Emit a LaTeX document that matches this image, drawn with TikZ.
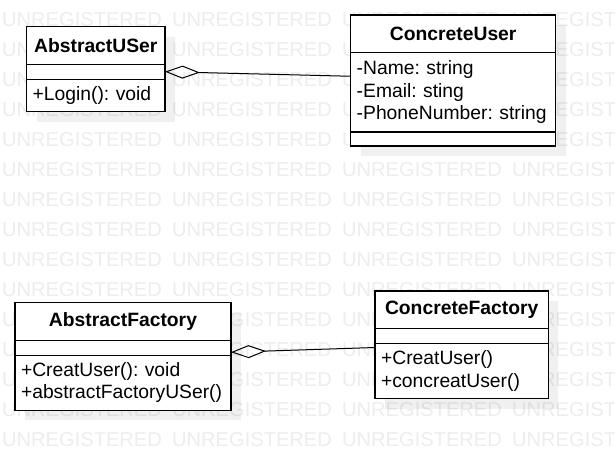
\documentclass[tikz,border=0pt]{standalone}
\usepackage{fontspec}
\setmainfont{Liberation Sans}
\usetikzlibrary{positioning,arrows.meta,shadows}

\tikzset{
umlpart/.style={
draw,
line width=1.2pt,
fill=white,
outer sep=0pt,
inner xsep=6pt,
inner ysep=0pt,
font=\fontsize{19.3}{22.3}\selectfont\frenchspacing,
drop shadow={shadow xshift=10pt,shadow yshift=-10pt,fill=black,opacity=0.06}
},
umlname/.style={umlpart,align=center,minimum height=37.5pt,
font=\fontsize{19.3}{22.3}\selectfont\bfseries},
umlbody/.style={umlpart,align=left},
aggregation/.style={line width=1pt,{Diamond[open,length=35pt,width=13pt]}-},
watermark/.style={text=black!7,inner sep=0pt,anchor=west,
font=\fontsize{20.1}{24}\selectfont}
}

\begin{document}
\begin{tikzpicture}[x=1pt,y=-1pt]

\path[use as bounding box,fill=white] (0,0) rectangle (615,471);

%%%%%%%%%%%%%%%%%%%%%%%%%%%%%%%%%%%%%%%%%%%%%%%%%%%%%%%%%%
% WATERMARK
%%%%%%%%%%%%%%%%%%%%%%%%%%%%%%%%%%%%%%%%%%%%%%%%%%%%%%%%%%

\begin{scope}
\clip (0,0) rectangle (615,471);
\foreach \r in {0,...,14}{
\foreach \c in {0,...,3}{
\node[watermark](wm-\r-\c) at (2+170*\c,20+30*\r){UNREGISTERED};
}
}
\end{scope}

%%%%%%%%%%%%%%%%%%%%%%%%%%%%%%%%%%%%%%%%%%%%%%%%%%%%%%%%%%
% USER CLASSES
%%%%%%%%%%%%%%%%%%%%%%%%%%%%%%%%%%%%%%%%%%%%%%%%%%%%%%%%%%

\node[
umlname,
anchor=north,
text width=126.3pt
](au-name)
at (95.8,26.7)
{AbstractUSer};

\node[umlbody,below=0pt of au-name,text width=126.3pt,minimum height=15pt](au-attr){};

\node[umlbody,below=0pt of au-attr,text width=126.3pt,minimum height=32.5pt](au-ops)
{+Login(): void};

\node[
umlname,
anchor=north,
text width=193pt
](cu-name)
at (453.2,15)
{ConcreteUser};

\node[umlbody,below=0pt of cu-name,text width=193pt,minimum height=79.5pt](cu-attr)
{-Name: string\\-Email: sting\\-PhoneNumber: string};

\node[umlbody,below=0pt of cu-attr,text width=193pt,minimum height=14pt](cu-ops){};

%%%%%%%%%%%%%%%%%%%%%%%%%%%%%%%%%%%%%%%%%%%%%%%%%%%%%%%%%%
% FACTORY CLASSES
%%%%%%%%%%%%%%%%%%%%%%%%%%%%%%%%%%%%%%%%%%%%%%%%%%%%%%%%%%

\node[
umlname,
anchor=north,
text width=204pt
](af-name)
at (123,302.7)
{AbstractFactory};

\node[umlbody,below=0pt of af-name,text width=204pt,minimum height=15pt](af-attr){};

\node[umlbody,below=0pt of af-attr,text width=204pt,minimum height=55pt](af-ops)
{+CreatUser(): void\\+abstractFactoryUSer()};

\node[
umlname,
anchor=north,
text width=161.3pt
](cf-name)
at (461.7,291)
{ConcreteFactory};

\node[umlbody,below=0pt of cf-name,text width=161.3pt,minimum height=15pt](cf-attr){};

\node[umlbody,below=0pt of cf-attr,text width=161.3pt,minimum height=55pt](cf-ops)
{+CreatUser()\\+concreatUser()};

%%%%%%%%%%%%%%%%%%%%%%%%%%%%%%%%%%%%%%%%%%%%%%%%%%%%%%%%%%
% CONNECTIONS
%%%%%%%%%%%%%%%%%%%%%%%%%%%%%%%%%%%%%%%%%%%%%%%%%%%%%%%%%%

\draw[aggregation](au-attr.east)--([yshift=16pt]cu-attr.west);
\draw[aggregation]([yshift=-4.5pt]af-attr.east)--([yshift=-4pt]cf-ops.north west);

\end{tikzpicture}
\end{document}
